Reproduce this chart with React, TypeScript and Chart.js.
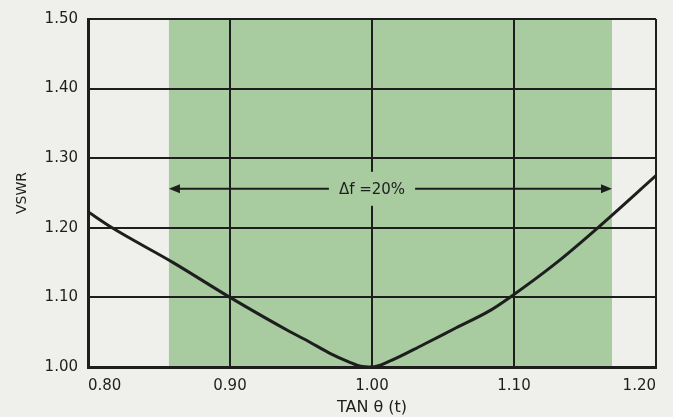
import React, { useEffect, useRef } from "react";
import { Chart, registerables } from "chart.js";

Chart.register(...registerables);

// ---- data ----
const tanTheta = [0.80, 0.817, 0.86, 0.90, 0.942, 0.956, 0.970, 0.984, 0.992, 1.00, 1.012, 1.036, 1.059, 1.083, 1.097, 1.13, 1.159, 1.20];
const vswr = [1.223, 1.20, 1.15, 1.10, 1.051, 1.036, 1.020, 1.007, 1.001, 1.0, 1.008, 1.032, 1.056, 1.081, 1.10, 1.15, 1.20, 1.275];

const xTickValues = [0.8, 0.9, 1.0, 1.1, 1.2];
const yTickValues = [1.0, 1.1, 1.2, 1.3, 1.4, 1.5];

const bandRange = [0.857, 1.169];
const arrowLevel = [1.256];
const annotationX = [1.0];
const annotationText = ["\u0394f =20%"];

const xTitle = "TAN \u03B8 (t)";
const yTitle = "VSWR";

// ---- styles ----
const PAPER = "#efefeb";
const GREEN = "#a8cb9f";
const INK = "#1e1e1e";
const FONT = "'DejaVu Sans', sans-serif";

const decorPlugin = {
  id: "decor",
  beforeDraw(chart: any) {
    const { ctx, chartArea, scales } = chart;
    const x = scales.x;
    ctx.save();
    ctx.fillStyle = PAPER;
    ctx.fillRect(0, 0, chart.width, chart.height);
    const x0 = x.getPixelForValue(bandRange[0]);
    const x1 = x.getPixelForValue(bandRange[1]);
    ctx.fillStyle = GREEN;
    ctx.fillRect(x0, chartArea.top, x1 - x0, chartArea.bottom - chartArea.top);
    ctx.restore();
  },
  afterDraw(chart: any) {
    const { ctx, scales } = chart;
    const x = scales.x;
    const y = scales.y;
    const x0 = x.getPixelForValue(bandRange[0]);
    const x1 = x.getPixelForValue(bandRange[1]);
    const yy = y.getPixelForValue(arrowLevel[0]);
    const xc = x.getPixelForValue(annotationX[0]);
    ctx.save();
    ctx.font = `15px ${FONT}`;
    const tw = ctx.measureText(annotationText[0]).width;
    // clear the area behind the text
    ctx.fillStyle = GREEN;
    ctx.fillRect(xc - tw / 2 - 6, yy - 17, tw + 12, 34);
    ctx.strokeStyle = INK;
    ctx.fillStyle = INK;
    ctx.lineWidth = 2;
    const gap = tw / 2 + 10;
    ctx.beginPath();
    ctx.moveTo(x0 + 8, yy);
    ctx.lineTo(xc - gap, yy);
    ctx.moveTo(xc + gap, yy);
    ctx.lineTo(x1 - 8, yy);
    ctx.stroke();
    // arrow heads
    ctx.beginPath();
    ctx.moveTo(x0, yy);
    ctx.lineTo(x0 + 11, yy - 4.5);
    ctx.lineTo(x0 + 11, yy + 4.5);
    ctx.closePath();
    ctx.fill();
    ctx.beginPath();
    ctx.moveTo(x1, yy);
    ctx.lineTo(x1 - 11, yy - 4.5);
    ctx.lineTo(x1 - 11, yy + 4.5);
    ctx.closePath();
    ctx.fill();
    ctx.textAlign = "center";
    ctx.textBaseline = "middle";
    ctx.fillText(annotationText[0], xc, yy + 1);
    ctx.restore();
  },
};

export default function App() {
  const ref = useRef<HTMLCanvasElement | null>(null);

  useEffect(() => {
    if (!ref.current) return;
    const chart = new Chart(ref.current, {
      type: "scatter",
      data: {
        datasets: [
          {
            label: "VSWR",
            data: tanTheta.map((t, i) => ({ x: t, y: vswr[i] })),
            showLine: true,
            borderColor: INK,
            borderWidth: 3,
            pointRadius: 0,
            cubicInterpolationMode: "monotone",
            fill: false,
          },
        ],
      },
      plugins: [decorPlugin],
      options: {
        animation: false,
        responsive: false,
        maintainAspectRatio: false,
        layout: { padding: { top: 10, right: 17, left: 0, bottom: 0 } },
        plugins: {
          legend: { display: false },
          tooltip: { enabled: false },
        },
        scales: {
          x: {
            type: "linear",
            min: 0.8,
            max: 1.2,
            afterBuildTicks: (s: any) => {
              s.ticks = xTickValues.map((v) => ({ value: v }));
            },
            afterFit: (s: any) => {
              s.height = 50;
            },
            ticks: {
              align: "inner",
              color: INK,
              padding: 10,
              font: { family: FONT, size: 15 },
              callback: (v: any) => Number(v).toFixed(2),
            },
            grid: { color: INK, lineWidth: 2, drawTicks: false },
            border: { color: INK, width: 3 },
            title: {
              display: true,
              text: xTitle,
              color: INK,
              font: { family: FONT, size: 16 },
              padding: { top: 0, bottom: 0 },
            },
          },
          y: {
            type: "linear",
            min: 1.0,
            max: 1.5,
            afterBuildTicks: (s: any) => {
              s.ticks = yTickValues.map((v) => ({ value: v }));
            },
            afterFit: (s: any) => {
              s.width = 88;
            },
            ticks: {
              color: INK,
              padding: 10,
              font: { family: FONT, size: 15 },
              callback: (v: any) => Number(v).toFixed(2),
            },
            grid: { color: INK, lineWidth: 2, drawTicks: false },
            border: { color: INK, width: 3 },
            title: {
              display: true,
              text: yTitle,
              color: INK,
              font: { family: FONT, size: 14 },
              padding: { top: 14, bottom: 0 },
            },
          },
        },
      },
    } as any);
    return () => chart.destroy();
  }, []);

  return (
    <div style={{ position: "fixed", left: 0, top: 0, width: 673, height: 417, background: PAPER }}>
      <canvas ref={ref} width={673} height={417} style={{ display: "block", width: 673, height: 417 }} />
    </div>
  );
}
